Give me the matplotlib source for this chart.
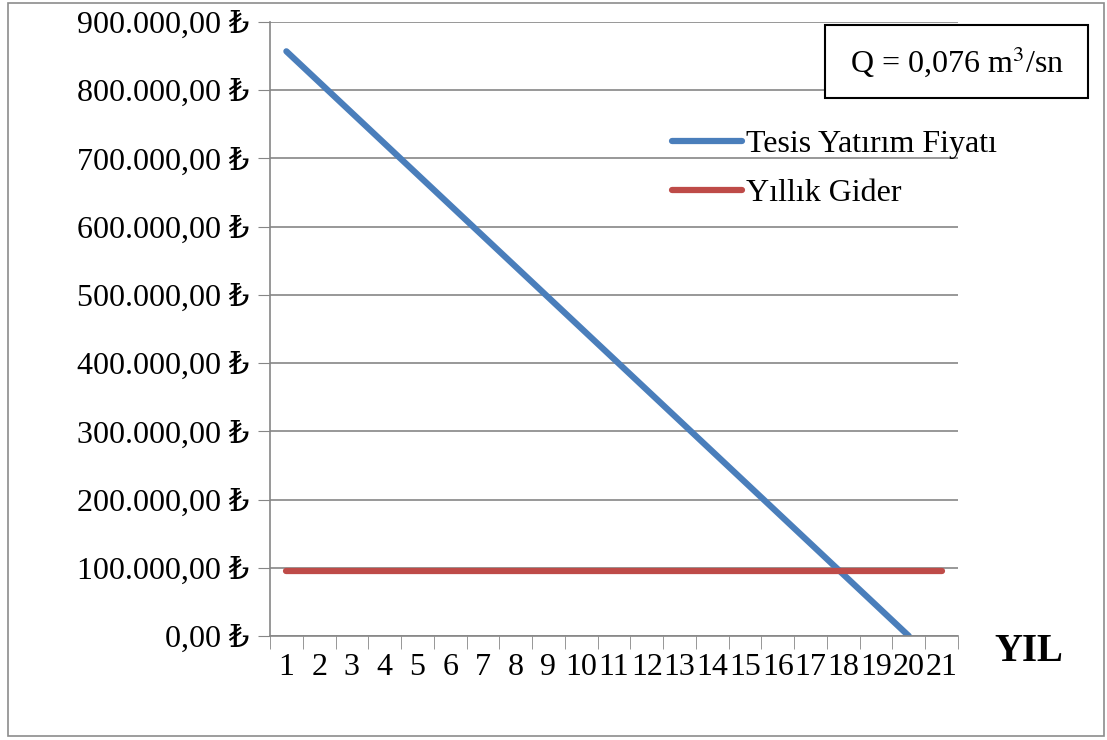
import numpy as np
import matplotlib.pyplot as plt
from matplotlib.patches import Rectangle

plt.rcParams['font.family'] = ['Liberation Serif', 'DejaVu Serif']

yil = list(range(1, 22))
tesis = [857000, 811900, 766800, 721700, 676600, 631500, 586400, 541300,
         496200, 451100, 406000, 360900, 315800, 270700, 225600, 180500,
         135400, 90300, 45200, 0]
gider = [96000] * 21
yticks = [0, 100000, 200000, 300000, 400000, 500000, 600000, 700000, 800000, 900000]


def tl(v):
    s = f"{v:,.2f}".replace(",", "X").replace(".", ",").replace("X", ".")
    return s + " \u20ba"


fig = plt.figure(figsize=(11.07, 7.40), dpi=100)
fig.patches.append(Rectangle((0.007, 0.006), 0.990, 0.99, transform=fig.transFigure,
                             fill=False, edgecolor='#8c8c8c', lw=1.2))
ax = fig.add_axes([0.2439, 0.1405, 0.8654 - 0.2439, 0.9703 - 0.1405])

ax.plot(yil[:len(tesis)], tesis, color='#4a7ebb', lw=4.5, solid_capstyle='round',
        label='Tesis Yatırım Fiyatı')
ax.plot(yil, gider, color='#be4b48', lw=4.5, solid_capstyle='round',
        label='Yıllık Gider')

ax.set_xlim(0.5, 21.5)
ax.set_ylim(0, 900000)
ax.set_yticks(yticks)
ax.set_yticklabels([tl(v) for v in yticks], fontsize=23)
ax.set_xticks(yil)
ax.set_xticklabels([str(v) for v in yil], fontsize=23)
ax.set_xticks(np.arange(0.5, 22, 1), minor=True)
ax.tick_params(axis='x', which='major', length=0, pad=12)
ax.tick_params(axis='x', which='minor', length=9, color='#868686', direction='out')
ax.tick_params(axis='y', length=9, color='#868686', pad=6)
ax.grid(axis='y', color='#868686', lw=1.2)
ax.set_axisbelow(True)
for s in ['top', 'right']:
    ax.spines[s].set_visible(False)
for s in ['left', 'bottom']:
    ax.spines[s].set_color('#868686')
    ax.spines[s].set_linewidth(1.2)

leg = ax.legend(loc='upper left', bbox_to_anchor=(0.566, 0.845), frameon=False,
                fontsize=23, handlelength=2.2, handletextpad=0.1, labelspacing=0.6,
                borderaxespad=0)
leg.set_zorder(5)

fig.patches.append(Rectangle((0.7453, 0.8682), 0.2376, 0.0986, transform=fig.transFigure,
                             fc='white', ec='black', lw=1.5, zorder=6))
fig.text(0.8641, 0.9175, 'Q = 0,076 m$^3$/sn', fontsize=23, ha='center', va='center',
         math_fontfamily='stix', zorder=7)
fig.text(0.898, 0.12, 'YIL', fontsize=28, fontweight='bold', ha='left', va='center')

fig.savefig('out.png', dpi=100)
